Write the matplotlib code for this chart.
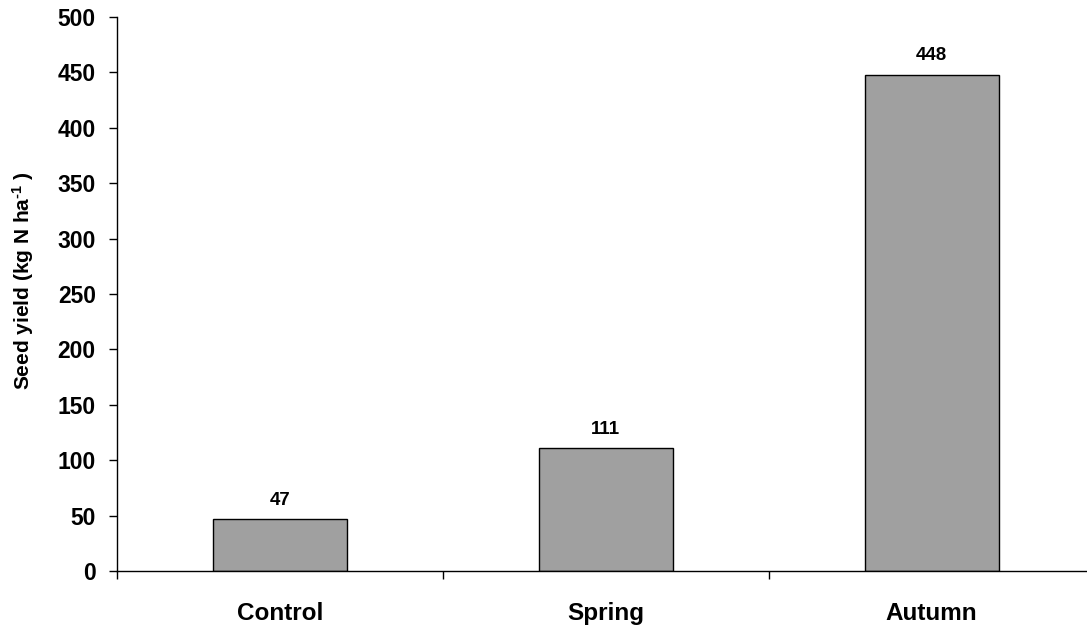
import matplotlib
matplotlib.use("Agg")
import matplotlib.pyplot as plt
import numpy as np

categories = ["Control", "Spring", "Autumn"]
values = [47, 111, 448]
yticks = [0, 50, 100, 150, 200, 250, 300, 350, 400, 450, 500]

plt.rcParams['font.family'] = ['Liberation Sans', 'DejaVu Sans']
plt.rcParams['font.weight'] = 'bold'
plt.rcParams['mathtext.fontset'] = 'custom'
plt.rcParams['mathtext.rm'] = 'Liberation Sans:bold'
plt.rcParams['mathtext.bf'] = 'Liberation Sans:bold'
plt.rcParams['mathtext.default'] = 'bf'

fig = plt.figure(figsize=(10.87, 6.26), dpi=100)
ax = fig.add_axes([116.7/1087, 55/626, 978/1087, 554/626])

x = np.arange(len(categories))
bars = ax.bar(x, values, width=0.41, color='#A0A0A0', edgecolor='black', linewidth=1.0, zorder=2)

for xi, v in zip(x, values):
    ax.annotate(str(v), xy=(xi, v), xytext=(0, 7.5), textcoords='offset points',
                ha='center', va='bottom', fontsize=13.5, fontweight='bold')

ax.set_xlim(-0.5, len(categories) - 0.5)
ax.set_ylim(0, 500)
ax.set_yticks(yticks)
ax.set_yticklabels([str(t) for t in yticks], fontsize=16.5, fontweight='bold')
ax.set_xticks(x)
ax.set_xticklabels(categories, fontsize=17.5, fontweight='bold')
ax.set_xticks(np.arange(len(categories) + 1) - 0.5, minor=True)

ax.tick_params(axis='y', which='major', direction='out', length=6, width=1, pad=9)
ax.tick_params(axis='x', which='major', length=0, pad=22)
ax.tick_params(axis='x', which='minor', direction='out', length=6, width=1)

for s in ['top', 'right']:
    ax.spines[s].set_visible(False)
for s in ['left', 'bottom']:
    ax.spines[s].set_linewidth(1)

fig.text(23/1087, 1 - 281/626, r'Seed yield (kg N ha$^{\text{-1}}$ )', rotation=90,
         ha='center', va='center', fontsize=15, fontweight='bold')

fig.savefig('out.png', dpi=100)
